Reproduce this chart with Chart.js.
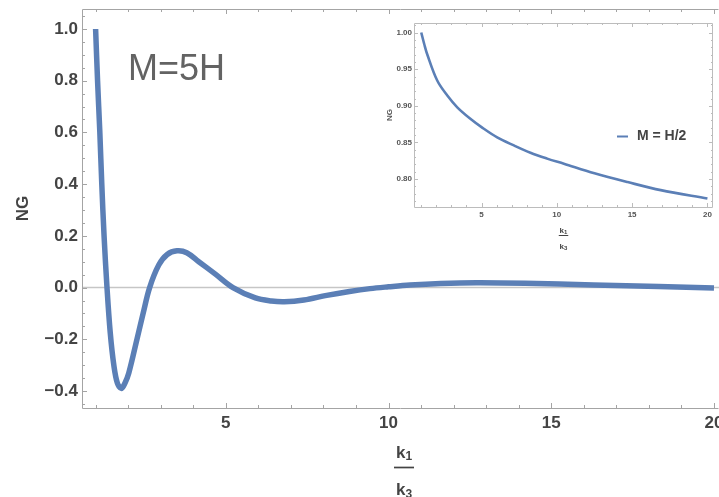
<!DOCTYPE html>
<html>
<head>
<meta charset="utf-8">
<script src="https://cdn.jsdelivr.net/npm/chart.js@4.4.1/dist/chart.umd.min.js"></script>
<style>
  html, body { margin: 0; padding: 0; background: #fff; }
  #wrap { position: relative; width: 719px; height: 497px; overflow: hidden; }
  #main { position: absolute; left: 0; top: 0; }
  #inset { position: absolute; left: 370px; top: 14px; }
</style>
</head>
<body>
<div id="wrap">
  <canvas id="main" width="719" height="497"></canvas>
  <canvas id="inset" width="349" height="240"></canvas>
</div>
<script>
// big plot, M = 5H
const mainX = [1.00, 1.06, 1.13, 1.19, 1.26, 1.35, 1.45, 1.56, 1.67, 1.79, 1.90, 2.02, 2.27, 2.46, 2.66,
               2.94, 3.20, 3.50, 3.80, 4.17, 4.68, 5.22, 5.91, 6.40, 6.80, 7.40, 8.10, 8.80, 9.43,
               10.0, 10.66, 11.6, 12.7, 14.2, 16.3, 18.3, 20.0];
const mainY = [1.00, 0.80, 0.60, 0.40, 0.20, 0.00, -0.175, -0.30, -0.37, -0.39, -0.37, -0.33, -0.20, -0.10, 0.00,
               0.087, 0.128, 0.142, 0.135, 0.100, 0.052, 0.00, -0.040, -0.052, -0.055, -0.048, -0.030, -0.015, -0.004,
               0.003, 0.010, 0.016, 0.019, 0.017, 0.010, 0.004, -0.002];
const mainXTicks = [5, 10, 15, 20];
const mainYTicks = [-0.4, -0.2, 0, 0.2, 0.4, 0.6, 0.8, 1.0];

// inset, M = H/2
const insetX = [1.00, 1.20, 1.40, 2.06, 2.73, 3.39, 4.28, 5.00, 6.04, 7.15, 8.25, 9.36, 10.47, 12.5, 14.7, 16.9, 20.0];
const insetY = [1.000, 0.984, 0.970, 0.9345, 0.914, 0.898, 0.882, 0.871, 0.857, 0.846, 0.836, 0.828, 0.821, 0.808, 0.796, 0.785, 0.7735];
const insetXTicks = [5, 10, 15, 20];
const insetYTicks = [0.80, 0.85, 0.90, 0.95, 1.00];

const blue = '#5b7fb6';
const family = "'Liberation Sans', Arial, sans-serif";
const txt = '#444';

const fmt = (v, d) => (v < -1e-9 ? '\u2212' : '') + Math.abs(v).toFixed(d);
const pts = (xs, ys) => xs.map((x, i) => ({ x: x, y: ys[i] }));

// frame with inward ticks, like Mathematica
function framePlugin(o) {
  return {
    id: 'frame',
    beforeDatasetsDraw(chart) {
      const { ctx, chartArea: a, scales: { x, y } } = chart;
      ctx.save();
      if (o.zeroLine) {
        const py = y.getPixelForValue(0);
        ctx.strokeStyle = '#c6c6c6';
        ctx.lineWidth = 1.5;
        ctx.beginPath(); ctx.moveTo(a.left, py); ctx.lineTo(a.right, py); ctx.stroke();
      }
      ctx.strokeStyle = o.color;
      ctx.lineWidth = 1;
      ctx.beginPath();
      ctx.moveTo(a.left + 0.5, a.top + 0.5); ctx.lineTo(a.left + 0.5, a.bottom + 0.5);
      ctx.lineTo(a.right - 0.5, a.bottom + 0.5);
      if (o.right) { ctx.lineTo(a.right - 0.5, a.top + 0.5); }
      ctx.moveTo(a.left + 0.5, a.top + 0.5); ctx.lineTo(a.right - 0.5, a.top + 0.5);
      ctx.stroke();

      ctx.beginPath();
      for (let i = 0; ; i++) {
        const v = o.xMinorFrom + i * o.xMinor;
        if (v > x.max) break;
        if (v < x.min) continue;
        const major = Math.abs(v / o.xMajor - Math.round(v / o.xMajor)) < 1e-6;
        const len = major ? o.major : o.minor;
        const px = Math.round(x.getPixelForValue(v)) + 0.5;
        ctx.moveTo(px, a.bottom); ctx.lineTo(px, a.bottom - len);
        ctx.moveTo(px, a.top); ctx.lineTo(px, a.top + len);
      }
      for (let i = 0; ; i++) {
        const v = o.yMinorFrom + i * o.yMinor;
        if (v > y.max) break;
        if (v < y.min) continue;
        const major = Math.abs(v / o.yMajor - Math.round(v / o.yMajor)) < 1e-6;
        const len = major ? o.major : o.minor;
        const py = Math.round(y.getPixelForValue(v)) + 0.5;
        ctx.moveTo(a.left, py); ctx.lineTo(a.left + len, py);
        if (o.right) { ctx.moveTo(a.right, py); ctx.lineTo(a.right - len, py); }
      }
      ctx.stroke();
      ctx.restore();
    }
  };
}

// k1 over k3 axis title
function drawSub(ctx, cx, base, main, sub, size, subSize, drop) {
  ctx.font = 'bold ' + size + 'px ' + family;
  const w1 = ctx.measureText(main).width;
  ctx.font = 'bold ' + subSize + 'px ' + family;
  const w2 = ctx.measureText(sub).width;
  const x0 = cx - (w1 + w2) / 2;
  ctx.font = 'bold ' + size + 'px ' + family;
  ctx.fillText(main, x0, base);
  ctx.font = 'bold ' + subSize + 'px ' + family;
  ctx.fillText(sub, x0 + w1, base + drop);
}
function fractionPlugin(o) {
  return {
    id: 'fraction',
    afterDraw(chart) {
      const ctx = chart.ctx;
      ctx.save();
      ctx.fillStyle = txt;
      ctx.strokeStyle = txt;
      ctx.textAlign = 'left';
      ctx.textBaseline = 'alphabetic';
      drawSub(ctx, o.cx, o.top, 'k', '1', o.size, o.sub, o.drop);
      ctx.lineWidth = o.bar;
      ctx.beginPath();
      ctx.moveTo(o.cx - o.barW / 2, o.barY); ctx.lineTo(o.cx + o.barW / 2, o.barY);
      ctx.stroke();
      drawSub(ctx, o.cx, o.bottom, 'k', '3', o.size, o.sub, o.drop);
      ctx.restore();
    }
  };
}

const labelPlugin = {
  id: 'label',
  afterDraw(chart) {
    const ctx = chart.ctx;
    ctx.save();
    ctx.fillStyle = '#636363';
    ctx.font = '36px ' + family;
    ctx.textAlign = 'left';
    ctx.textBaseline = 'alphabetic';
    ctx.fillText('M=5H', 128, 80);
    ctx.restore();
  }
};

const legendPlugin = {
  id: 'insetLegend',
  afterDraw(chart) {
    const ctx = chart.ctx;
    const ds = chart.data.datasets[0];
    ctx.save();
    ctx.strokeStyle = ds.borderColor;
    ctx.lineWidth = 2;
    ctx.beginPath(); ctx.moveTo(247, 122.5); ctx.lineTo(258, 122.5); ctx.stroke();
    ctx.fillStyle = txt;
    ctx.font = 'bold 14px ' + family;
    ctx.textAlign = 'left';
    ctx.textBaseline = 'middle';
    ctx.fillText(ds.label, 267, 122.5);
    ctx.restore();
  }
};

function axisFont(size) { return { family: family, size: size, weight: 'bold' }; }

new Chart(document.getElementById('main'), {
  type: 'line',
  data: {
    datasets: [{
      label: 'M = 5H',
      data: pts(mainX, mainY),
      borderColor: blue,
      borderWidth: 5.5,
      tension: 0.35,
      pointRadius: 0,
      fill: false
    }]
  },
  options: {
    responsive: false,
    animation: false,
    devicePixelRatio: 1,
    layout: { padding: { top: 9, left: 0, right: 0, bottom: 0 } },
    plugins: { legend: { display: false }, tooltip: { enabled: false } },
    scales: {
      x: {
        type: 'linear', min: 0.582, max: 20.154,
        afterBuildTicks: s => { s.ticks = mainXTicks.map(v => ({ value: v })); },
        afterFit: s => { s.height = 89; s.paddingLeft = 0; s.paddingRight = 0; },
        grid: { display: false, drawTicks: false },
        border: { display: false },
        ticks: { autoSkip: false, maxRotation: 0, padding: 5, color: txt, font: axisFont(17), callback: v => String(v) }
      },
      y: {
        type: 'linear', min: -0.4657, max: 1.0773,
        afterBuildTicks: s => { s.ticks = mainYTicks.map(v => ({ value: v })); },
        afterFit: s => { s.width = 82; s.paddingTop = 0; s.paddingBottom = 0; },
        grid: { display: false, drawTicks: false },
        border: { display: false },
        ticks: { autoSkip: false, padding: 4, color: txt, font: axisFont(17), callback: v => fmt(v, 1) },
        title: { display: true, text: 'NG', color: txt, font: axisFont(17), padding: { top: 13, bottom: 0 } }
      }
    }
  },
  plugins: [
    framePlugin({ color: '#a4a4a4', zeroLine: true, right: false, major: 5, minor: 3,
                  xMinorFrom: 1, xMinor: 1, xMajor: 5, yMinorFrom: -0.45, yMinor: 0.05, yMajor: 0.2 }),
    fractionPlugin({ cx: 404, top: 457.5, bottom: 495, barY: 467.5, barW: 20, bar: 1.7, size: 17, sub: 12, drop: 2.5 }),
    labelPlugin
  ]
});

new Chart(document.getElementById('inset'), {
  type: 'line',
  data: {
    datasets: [{
      label: 'M = H/2',
      data: pts(insetX, insetY),
      borderColor: blue,
      borderWidth: 2.6,
      tension: 0.35,
      pointRadius: 0,
      fill: false
    }]
  },
  options: {
    responsive: false,
    animation: false,
    devicePixelRatio: 1,
    layout: { padding: { top: 9, left: 0, right: 6, bottom: 0 } },
    plugins: { legend: { display: false }, tooltip: { enabled: false } },
    scales: {
      x: {
        type: 'linear', min: 0.518, max: 20.37,
        afterBuildTicks: s => { s.ticks = insetXTicks.map(v => ({ value: v })); },
        afterFit: s => { s.height = 47; s.paddingLeft = 0; s.paddingRight = 0; },
        grid: { display: false, drawTicks: false },
        border: { display: false },
        ticks: { autoSkip: false, maxRotation: 0, padding: 3, color: '#555', font: axisFont(8), callback: v => String(v) }
      },
      y: {
        type: 'linear', min: 0.762, max: 1.013,
        afterBuildTicks: s => { s.ticks = insetYTicks.map(v => ({ value: v })); },
        afterFit: s => { s.width = 44; s.paddingTop = 0; s.paddingBottom = 0; },
        grid: { display: false, drawTicks: false },
        border: { display: false },
        ticks: { autoSkip: false, padding: 2, color: '#555', font: axisFont(8), callback: v => fmt(v, 2) },
        title: { display: true, text: 'NG', color: '#555', font: axisFont(8), padding: { top: 15, bottom: 0 } }
      }
    }
  },
  plugins: [
    framePlugin({ color: '#bcbcbc', zeroLine: false, right: true, major: 4, minor: 2,
                  xMinorFrom: 1, xMinor: 1, xMajor: 5, yMinorFrom: 0.77, yMinor: 0.01, yMajor: 0.05 }),
    fractionPlugin({ cx: 193.5, top: 219, bottom: 234.5, barY: 221.5, barW: 9.5, bar: 1, size: 8, sub: 6, drop: 1.2 }),
    legendPlugin
  ]
});
</script>
</body>
</html>
